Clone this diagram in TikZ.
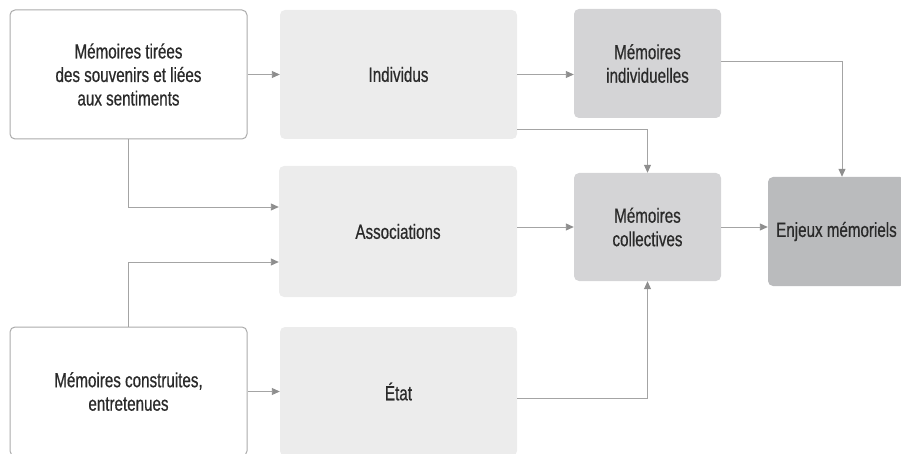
\documentclass[tikz,border=0pt]{standalone}
\usepackage{fontspec}
\setmainfont{Liberation Sans}[FakeStretch=0.74,FakeBold=0.6]
\usetikzlibrary{arrows.meta,calc}
\definecolor{linegray}{HTML}{A4A4A4}
\definecolor{tipgray}{HTML}{8E8E8E}
\definecolor{bordergray}{HTML}{ABABAB}
\definecolor{lightfill}{HTML}{ECECEC}
\definecolor{midfill}{HTML}{D4D4D6}
\definecolor{darkfill}{HTML}{BABBBD}
\definecolor{txt}{HTML}{2A2A2A}
\begin{document}
\begin{tikzpicture}[x=1pt,y=-1pt,
  every node/.style={font=\fontsize{20.5}{23.5}\selectfont, text=txt, align=center, inner sep=0pt, rounded corners=5pt},
  srcbox/.style={draw=bordergray, line width=1pt, fill=white},
  actbox/.style={fill=lightfill},
  membox/.style={fill=midfill},
  endbox/.style={fill=darkfill},
  conn/.style={draw=linegray, line width=0.9pt, -{Triangle[length=8pt,width=7pt,color=tipgray,fill=tipgray]}},
  plain/.style={draw=linegray, line width=0.9pt}]
\useasboundingbox (0,0) rectangle (901,454);
\clip (0,0) rectangle (901,454);
\node[srcbox, minimum width=237pt, minimum height=129pt] (A) at (128.5,74.5) {Mémoires tirées\\des souvenirs et liées\\aux sentiments};
\node[srcbox, minimum width=237pt, minimum height=129pt] (B) at (128.5,391.5) {Mémoires construites,\\entretenues};
\node[actbox, minimum width=237pt, minimum height=129pt] (Ind) at (398.5,74.5) {Individus};
\node[actbox, minimum width=238pt, minimum height=131pt] (Assoc) at (398,231.5) {Associations};
\node[actbox, minimum width=237pt, minimum height=129pt] (Etat) at (398.5,391.5) {État};
\node[membox, minimum width=147pt, minimum height=109pt] (MI) at (647.5,63.5) {Mémoires\\individuelles};
\node[membox, minimum width=147pt, minimum height=108pt] (MC) at (647.5,227) {Mémoires\\collectives};
\node[endbox, minimum width=137pt, minimum height=109pt] (EM) at (836.5,231.5) {Enjeux mémoriels};
\coordinate (c1) at (842,61);
\coordinate (c2) at (0,129);
\coordinate (c3) at (0,207);
\coordinate (c4) at (0,262);
\coordinate (c5) at (0,398);
\draw[conn] (A.east) -- (Ind.west);
\draw[conn] (Ind.east) -- (Ind.east -| MI.west);
\draw[plain] (MI.east |- c1) -- (c1);
\draw[conn] (c1) -- (c1 |- EM.north);
\draw[conn] (Ind.east |- c2) -| (MC.north);
\draw[conn] (A.south) |- (Assoc.west |- c3);
\draw[conn] (B.north) |- (Assoc.west |- c4);
\draw[conn] (Assoc.east |- MC.west) -- (MC.west);
\draw[conn] (MC.east) -- (MC.east -| EM.west);
\draw[conn] (B.east) -- (Etat.west);
\draw[conn] (Etat.east |- c5) -| (MC.south);
\end{tikzpicture}
\end{document}
